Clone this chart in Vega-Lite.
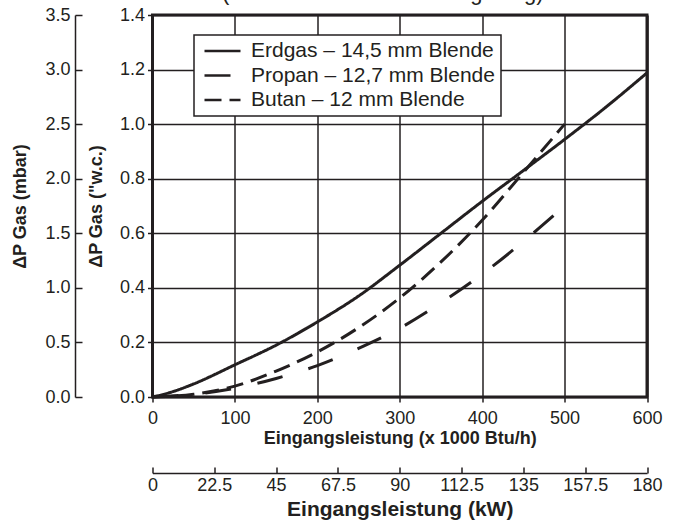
{
  "$schema": "https://vega.github.io/schema/vega-lite/v6.json",
  "width": 494.5,
  "height": 382,
  "autosize": "none",
  "padding": {"left": 152.5, "top": 15, "right": 28, "bottom": 123},
  "background": "white",
  "config": {
    "font": "Liberation Sans",
    "view": {"stroke": "#231f20", "strokeWidth": 3},
    "axis": {
      "labelFont": "Liberation Sans",
      "titleFont": "Liberation Sans",
      "labelColor": "#231f20",
      "titleColor": "#231f20",
      "tickColor": "#231f20",
      "domainColor": "#231f20",
      "labelFontSize": 18,
      "titleFontWeight": "bold",
      "labelOverlap": false,
      "labelFlush": false,
      "labelBound": false
    }
  },
  "title": {
    "text": "(Gemessen an der Gasregelung)",
    "fontSize": 22,
    "fontWeight": "normal",
    "color": "#231f20",
    "anchor": "middle",
    "frame": "group",
    "baseline": "alphabetic",
    "offset": -16,
    "dx": -17
  },
  "datasets": {
    "curves": [
      {"gas": "Erdgas – 14,5 mm Blende", "btu": 0, "inwc": 0},
      {"gas": "Erdgas – 14,5 mm Blende", "btu": 25, "inwc": 0.02},
      {"gas": "Erdgas – 14,5 mm Blende", "btu": 50, "inwc": 0.048},
      {"gas": "Erdgas – 14,5 mm Blende", "btu": 100, "inwc": 0.118},
      {"gas": "Erdgas – 14,5 mm Blende", "btu": 150, "inwc": 0.19},
      {"gas": "Erdgas – 14,5 mm Blende", "btu": 200, "inwc": 0.275},
      {"gas": "Erdgas – 14,5 mm Blende", "btu": 250, "inwc": 0.37},
      {"gas": "Erdgas – 14,5 mm Blende", "btu": 300, "inwc": 0.483},
      {"gas": "Erdgas – 14,5 mm Blende", "btu": 350, "inwc": 0.6},
      {"gas": "Erdgas – 14,5 mm Blende", "btu": 400, "inwc": 0.717},
      {"gas": "Erdgas – 14,5 mm Blende", "btu": 450, "inwc": 0.83},
      {"gas": "Erdgas – 14,5 mm Blende", "btu": 500, "inwc": 0.944},
      {"gas": "Erdgas – 14,5 mm Blende", "btu": 550, "inwc": 1.062},
      {"gas": "Erdgas – 14,5 mm Blende", "btu": 600, "inwc": 1.188},
      {"gas": "Propan – 12,7 mm Blende", "btu": 0, "inwc": 0},
      {"gas": "Propan – 12,7 mm Blende", "btu": 50, "inwc": 0.01},
      {"gas": "Propan – 12,7 mm Blende", "btu": 100, "inwc": 0.032},
      {"gas": "Propan – 12,7 mm Blende", "btu": 150, "inwc": 0.068},
      {"gas": "Propan – 12,7 mm Blende", "btu": 200, "inwc": 0.115},
      {"gas": "Propan – 12,7 mm Blende", "btu": 250, "inwc": 0.178},
      {"gas": "Propan – 12,7 mm Blende", "btu": 300, "inwc": 0.252},
      {"gas": "Propan – 12,7 mm Blende", "btu": 350, "inwc": 0.345},
      {"gas": "Propan – 12,7 mm Blende", "btu": 400, "inwc": 0.45},
      {"gas": "Propan – 12,7 mm Blende", "btu": 450, "inwc": 0.57},
      {"gas": "Propan – 12,7 mm Blende", "btu": 500, "inwc": 0.7},
      {"gas": "Butan – 12 mm Blende", "btu": 0, "inwc": 0},
      {"gas": "Butan – 12 mm Blende", "btu": 50, "inwc": 0.01},
      {"gas": "Butan – 12 mm Blende", "btu": 100, "inwc": 0.04},
      {"gas": "Butan – 12 mm Blende", "btu": 150, "inwc": 0.095},
      {"gas": "Butan – 12 mm Blende", "btu": 200, "inwc": 0.165},
      {"gas": "Butan – 12 mm Blende", "btu": 250, "inwc": 0.254},
      {"gas": "Butan – 12 mm Blende", "btu": 300, "inwc": 0.363},
      {"gas": "Butan – 12 mm Blende", "btu": 350, "inwc": 0.495},
      {"gas": "Butan – 12 mm Blende", "btu": 400, "inwc": 0.648},
      {"gas": "Butan – 12 mm Blende", "btu": 450, "inwc": 0.823},
      {"gas": "Butan – 12 mm Blende", "btu": 500, "inwc": 1.0}
    ],
    "secondary": [
      {"kw": 0, "mbar": 0},
      {"kw": 180, "mbar": 3.5}
    ]
  },
  "layer": [
    {
      "data": {"name": "curves"},
      "mark": {"type": "line", "strokeWidth": 3, "color": "#231f20", "interpolate": "monotone", "strokeCap": "butt"},
      "encoding": {
        "x": {
          "field": "btu", "type": "quantitative",
          "scale": {"domain": [0, 600], "nice": false, "zero": false},
          "axis": {
            "orient": "bottom",
            "title": "Eingangsleistung (x 1000 Btu/h)",
            "titleFontSize": 18,
            "titlePadding": 2,
            "values": [0, 100, 200, 300, 400, 500, 600],
            "format": "d",
            "domain": false,
            "tickSize": 5,
            "tickWidth": 1.5,
            "labelPadding": 7,
            "grid": true,
            "gridColor": "#231f20",
            "gridWidth": 1.5,
            "gridOpacity": 1
          }
        },
        "y": {
          "field": "inwc", "type": "quantitative",
          "scale": {"domain": [0, 1.4], "nice": false, "zero": false},
          "axis": {
            "orient": "left",
            "title": "ΔP Gas (\"w.c.)",
            "titleFontSize": 18,
            "titlePadding": 14,
            "values": [0, 0.2, 0.4, 0.6, 0.8, 1.0, 1.2, 1.4],
            "format": ".1f",
            "domain": false,
            "tickSize": 5,
            "tickWidth": 1.5,
            "labelPadding": 3,
            "grid": true,
            "gridColor": "#231f20",
            "gridWidth": 1.5,
            "gridOpacity": 1
          }
        },
        "strokeDash": {
          "field": "gas", "type": "nominal",
          "scale": {
            "domain": ["Erdgas – 14,5 mm Blende", "Propan – 12,7 mm Blende", "Butan – 12 mm Blende"],
            "range": [[1, 0], [26, 27], [17, 8]]
          },
          "legend": {
            "orient": "none",
            "legendX": 41.5,
            "legendY": 20,
            "title": null,
            "fillColor": "white",
            "strokeColor": "#231f20",
            "padding": 6,
            "rowPadding": 3.5,
            "clipHeight": 20,
            "labelFont": "Liberation Sans",
            "labelFontSize": 21,
            "labelColor": "#231f20",
            "labelOffset": 9,
            "labelLimit": 400,
            "symbolType": "stroke",
            "symbolSize": 1296,
            "symbolOffset": 3,
            "symbolStrokeWidth": 2.5,
            "symbolStrokeColor": "#231f20",
            "encode": {
              "legend": {"update": {"strokeWidth": {"value": 1.5}}},
              "symbols": {
                "update": {
                  "strokeDash": {"signal": "datum.value === 'Erdgas – 14,5 mm Blende' ? [1, 0] : datum.value === 'Propan – 12,7 mm Blende' ? [15, 6] : [8, 5]"}
                }
              }
            }
          }
        }
      }
    },
    {
      "data": {"name": "secondary"},
      "mark": {"type": "point", "opacity": 0},
      "encoding": {
        "x": {
          "field": "kw", "type": "quantitative",
          "scale": {"domain": [0, 180], "nice": false, "zero": false},
          "axis": {
            "orient": "bottom",
            "offset": 76,
            "title": "Eingangsleistung (kW)",
            "titleFontSize": 21,
            "titlePadding": 4,
            "values": [0, 22.5, 45, 67.5, 90, 112.5, 135, 157.5, 180],
            "labelExpr": "'' + datum.value",
            "domain": true,
            "domainWidth": 1.5,
            "tickSize": -6,
            "tickWidth": 1.5,
            "labelPadding": 9,
            "grid": false
          }
        },
        "y": {
          "field": "mbar", "type": "quantitative",
          "scale": {"domain": [0, 3.5], "nice": false, "zero": false},
          "axis": {
            "orient": "left",
            "offset": 77.5,
            "title": "ΔP Gas (mbar)",
            "titleFontSize": 18,
            "titlePadding": 15,
            "values": [0, 0.5, 1, 1.5, 2, 2.5, 3, 3.5],
            "format": ".1f",
            "domain": true,
            "domainWidth": 1.5,
            "tickSize": -7,
            "tickWidth": 1.5,
            "labelPadding": 12,
            "grid": false
          }
        }
      }
    }
  ],
  "resolve": {"scale": {"x": "independent", "y": "independent"}}
}
